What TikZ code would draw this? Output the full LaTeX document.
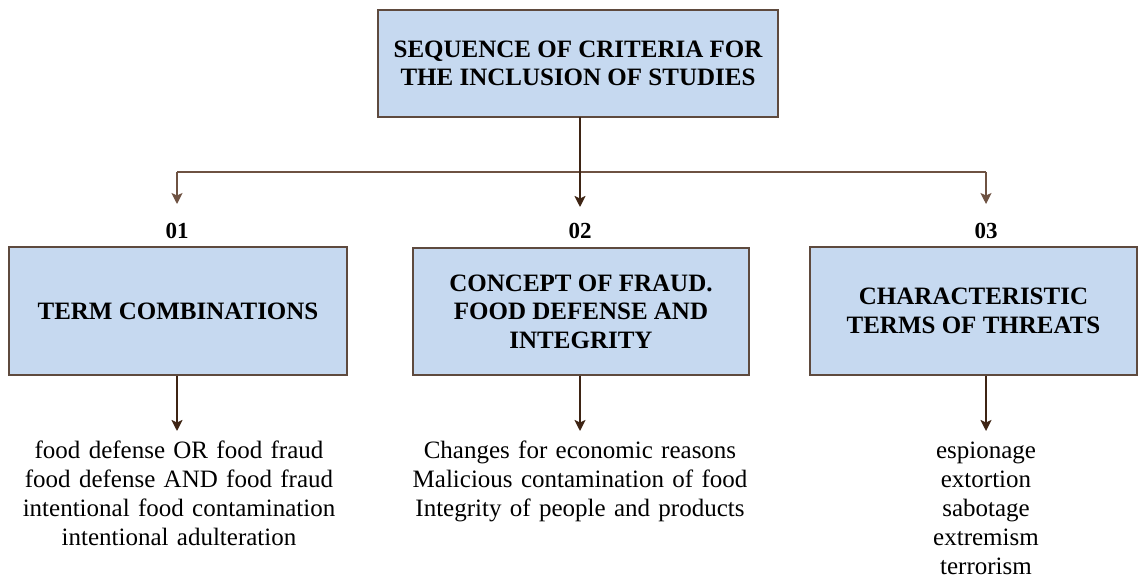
\documentclass[tikz,border=0pt]{standalone}
\usepackage{fontspec}
\setmainfont{Liberation Serif}
\usetikzlibrary{arrows.meta}
\definecolor{boxfill}{HTML}{C6D9F0}
\definecolor{boxline}{HTML}{5E4A3E}
\definecolor{arrowcol}{HTML}{3E2414}
\definecolor{linkcol}{HTML}{6E5242}
\begin{document}
\begin{tikzpicture}[x=1pt,y=-1pt,
  box/.style={draw=boxline,fill=boxfill,line width=1.3pt,inner sep=0pt,
    align=center,font=\bfseries\fontsize{25}{28.5}\selectfont},
  numlabel/.style={inner sep=0pt,font=\bfseries\fontsize{23}{26}\selectfont},
  listtext/.style={inner sep=0pt,anchor=base,text width=340pt,align=center,
    font=\fontsize{25}{29}\selectfont},
  arrowline/.style={draw=arrowcol,line width=2pt,
    -{Stealth[length=11pt,width=11pt,inset=2.5pt]}},
  thinarrow/.style={draw=linkcol,line width=1.3pt,
    -{Stealth[length=11pt,width=11pt,inset=2.5pt]}},
  link/.style={draw=linkcol,line width=1.3pt}]
\useasboundingbox (0,0) rectangle (1138,580);

% main box
\node[box,minimum width=400pt,minimum height=107pt] (top) at (578,63.5)
  {SEQUENCE OF CRITERIA FOR\\THE INCLUSION OF STUDIES};

% criteria boxes
\node[box,minimum width=338pt,minimum height=128pt] (b1) at (178,311)
  {TERM COMBINATIONS};
\node[box,minimum width=336pt,minimum height=127pt] (b2) at (581,311.5)
  {CONCEPT OF FRAUD.\\FOOD DEFENSE AND\\INTEGRITY};
\node[box,minimum width=327pt,minimum height=128pt] (b3) at (973.5,311)
  {CHARACTERISTIC\\TERMS OF THREATS};

% numbers
\node[numlabel] (n1) at (177,230.5) {01};
\node[numlabel] (n2) at (580,230.5) {02};
\node[numlabel] (n3) at (986,230.5) {03};

% connector points
\coordinate (s0) at (580,117);
\coordinate (j1) at (177,172);
\coordinate (j3) at (986,172);
\coordinate (t1) at (177,204);
\coordinate (t2) at (580,207);
\coordinate (t3) at (986,204);
\coordinate (d1) at (177,431);
\coordinate (d2) at (580,431);
\coordinate (d3) at (986,431);

% branching connectors
\draw[link] (j1) -- (j3);
\draw[thinarrow] (j1) -- (t1);
\draw[thinarrow] (j3) -- (t3);
\draw[arrowline] (s0) -- (t2);

% arrows to the term lists
\draw[arrowline] (b1.south -| d1) -- (d1);
\draw[arrowline] (b2.south -| d2) -- (d2);
\draw[arrowline] (b3.south -| d3) -- (d3);

% term lists
\node[listtext] (l1) at (179,458)
  {food defense OR food fraud\\food defense AND food fraud\\intentional food contamination\\intentional adulteration};
\node[listtext] (l2) at (580,458)
  {Changes for economic reasons\\Malicious contamination of food\\Integrity of people and products};
\node[listtext] (l3) at (986,458)
  {espionage\\extortion\\sabotage\\extremism\\terrorism};
\end{tikzpicture}
\end{document}
